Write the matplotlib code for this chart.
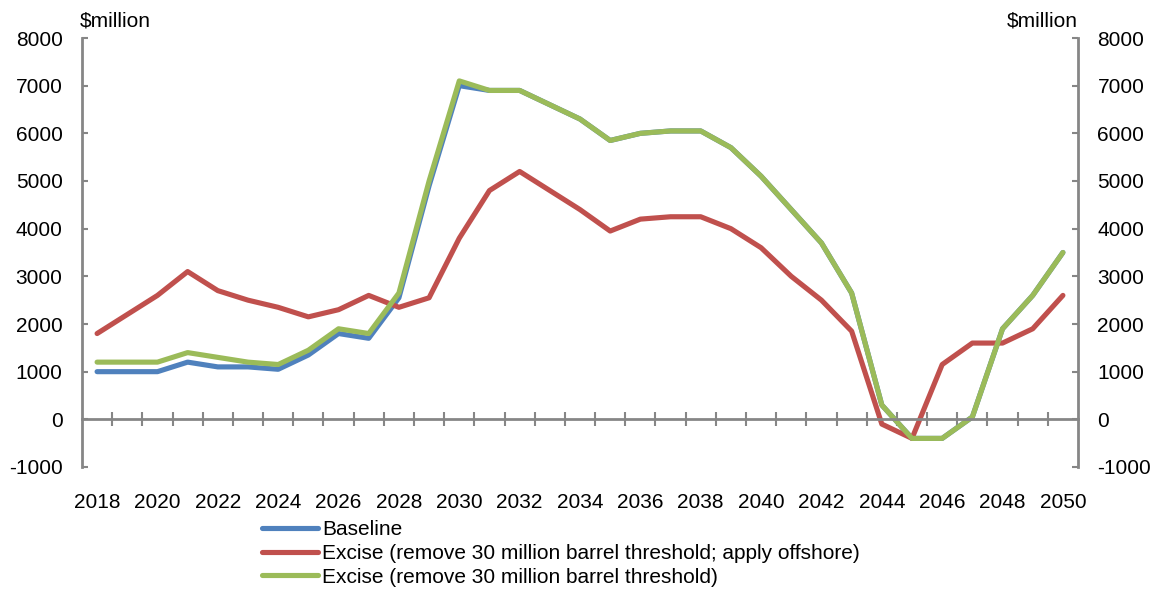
import matplotlib
matplotlib.use("Agg")
import matplotlib.pyplot as plt
from matplotlib.ticker import FixedLocator

plt.rcParams['font.family'] = ['Liberation Sans', 'DejaVu Sans']
plt.rcParams['axes.unicode_minus'] = False

years = list(range(2018, 2051))
baseline = [1000, 1000, 1000, 1200, 1100, 1100, 1050, 1350, 1800, 1700,
            2550, 4900, 7000, 6900, 6900, 6600, 6300, 5850, 6000, 6050,
            6050, 5700, 5100, 4400, 3700, 2650, 300, -400, -400, 50,
            1900, 2600, 3500]
excise_offshore = [1800, 2200, 2600, 3100, 2700, 2500, 2350, 2150, 2300, 2600,
                   2350, 2550, 3800, 4800, 5200, 4800, 4400, 3950, 4200, 4250,
                   4250, 4000, 3600, 3000, 2500, 1850, -100, -400, 1150, 1600,
                   1600, 1900, 2600]
excise = [1200, 1200, 1200, 1400, 1300, 1200, 1150, 1450, 1900, 1800,
          2650, 5000, 7100, 6900, 6900, 6600, 6300, 5850, 6000, 6050,
          6050, 5700, 5100, 4400, 3700, 2650, 300, -400, -400, 50,
          1900, 2600, 3500]
series_labels = ["Baseline",
                 "Excise (remove 30 million barrel threshold; apply offshore)",
                 "Excise (remove 30 million barrel threshold)"]
series_colors = ["#4F81BD", "#C0504D", "#9BBB59"]
y_ticks = list(range(-1000, 8001, 1000))
unit_label = "$million"

axis_grey = "#868686"
fs = 15

fig = plt.figure(figsize=(11.57, 5.90), dpi=100)
ax = fig.add_axes([82 / 1157, 1 - 467 / 590, (1078 - 82) / 1157, (467 - 38) / 590])

idx = list(range(len(years)))
for vals, lab, col in zip([baseline, excise_offshore, excise], series_labels, series_colors):
    ax.plot(idx, vals, color=col, lw=3.7, label=lab, solid_joinstyle='round',
            solid_capstyle='round')

ax.set_xlim(-0.5, len(years) - 0.5)
ax.set_ylim(y_ticks[0], y_ticks[-1])

# y axes on both sides
ax.set_yticks(y_ticks)
ax.tick_params(axis='y', direction='in', length=4.5, width=1.5, color=axis_grey,
               labelsize=fs, pad=14)
ax.spines['left'].set_color(axis_grey)
ax.spines['left'].set_linewidth(2)
ax.spines['right'].set_visible(False)
ax.spines['top'].set_visible(False)

axr = ax.twinx()
axr.set_ylim(ax.get_ylim())
axr.set_yticks(y_ticks)
axr.tick_params(axis='y', direction='in', length=4.5, width=1.5, color=axis_grey,
                labelsize=fs, pad=14)
for s in ['left', 'top', 'bottom']:
    axr.spines[s].set_visible(False)
axr.spines['right'].set_color(axis_grey)
axr.spines['right'].set_linewidth(2)

# category axis running along zero, ticks between categories
ax.spines['bottom'].set_position(('data', 0))
ax.spines['bottom'].set_color(axis_grey)
ax.spines['bottom'].set_linewidth(2)
ax.xaxis.set_major_locator(FixedLocator([]))
ax.xaxis.set_minor_locator(FixedLocator([i + 0.5 for i in idx[:-1]]))
ax.tick_params(axis='x', which='minor', direction='inout', length=9.5, width=1.5,
               color=axis_grey)

# year labels along the bottom of the plot area
sec = ax.secondary_xaxis('bottom')
sec.set_xticks(idx[::2])
sec.set_xticklabels([str(y) for y in years[::2]])
sec.tick_params(axis='x', length=0, labelsize=fs, pad=18.5)
sec.spines['bottom'].set_visible(False)

fig.text(80 / 1157, 1 - 26 / 590, unit_label, fontsize=fs, ha='left', va='baseline')
fig.text(1078 / 1157, 1 - 26 / 590, unit_label, fontsize=fs, ha='right', va='baseline')

handles, labels = ax.get_legend_handles_labels()
fig.legend(handles, labels, loc='upper left', bbox_to_anchor=(262 / 1157, 1 - 520 / 590),
           frameon=False, fontsize=fs, handlelength=2.7, handletextpad=0.2,
           labelspacing=0.23, borderpad=0, borderaxespad=0)

fig.savefig("out.png", dpi=100)
